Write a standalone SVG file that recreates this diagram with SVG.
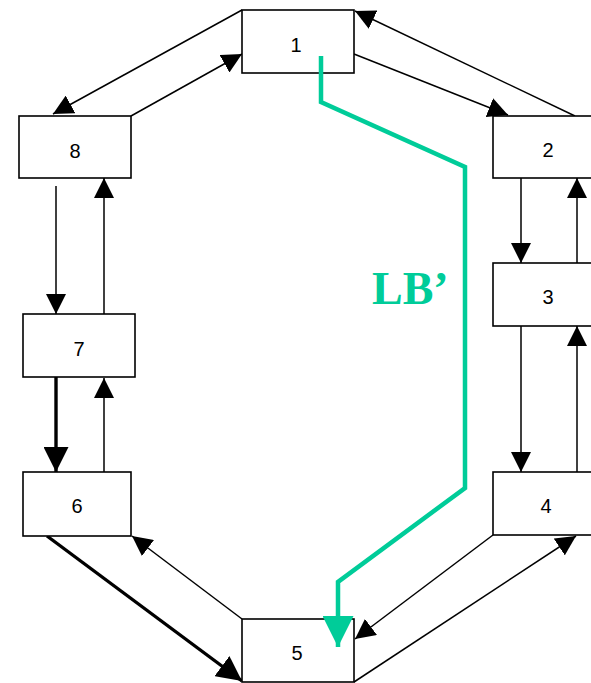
<svg xmlns="http://www.w3.org/2000/svg" width="591" height="683" viewBox="0 0 591 683">
  <style>
    .node rect { fill: #fff; stroke: #000; stroke-width: 1.6; }
    .node text { font-family: "Liberation Sans", Arial, sans-serif; font-size: 20px; text-anchor: middle; fill: #000; }
    .edge { stroke: #000; stroke-width: 1.5; fill: none; marker-end: url(#ah); }
    .edge.thick { stroke-width: 3.4; marker-end: url(#ahBig); }
    .route { stroke: #00cc99; stroke-width: 4.5; fill: none; stroke-linejoin: miter; marker-end: url(#ahGreen); }
    .label { font-family: "Liberation Serif", "Times New Roman", serif; font-weight: bold; font-size: 46px; fill: #00cc99; }
  </style>
  <defs>
    <marker id="ah" markerUnits="userSpaceOnUse" markerWidth="20" markerHeight="20" viewBox="0 0 20 20" refX="20" refY="10" orient="auto">
      <path d="M0,0 L20,10 L0,20 z" fill="#000"/>
    </marker>
    <marker id="ahBig" markerUnits="userSpaceOnUse" markerWidth="25" markerHeight="25" viewBox="0 0 25 25" refX="25" refY="12.5" orient="auto">
      <path d="M0,0 L25,12.5 L0,25 z" fill="#000"/>
    </marker>
    <marker id="ahGreen" markerUnits="userSpaceOnUse" markerWidth="31" markerHeight="31" viewBox="0 0 31 31" refX="31" refY="15.5" orient="auto">
      <path d="M0,0 L31,15.5 L0,31 z" fill="#00cc99"/>
    </marker>
  </defs>

  <rect width="591" height="683" fill="#fff"/>

  <!-- connectors -->
  <g id="connectors">
    <!-- 1 <-> 2 -->
    <line class="edge" x1="354" y1="54" x2="508" y2="115"/>
    <line class="edge" x1="575" y1="116" x2="355" y2="11"/>
    <!-- 1 <-> 8 -->
    <line class="edge" x1="242" y1="10" x2="53" y2="114"/>
    <line class="edge" x1="131" y1="116" x2="242" y2="54"/>
    <!-- 2 <-> 3 -->
    <line class="edge" x1="521" y1="178" x2="521" y2="263"/>
    <line class="edge" x1="577" y1="263" x2="577" y2="178"/>
    <!-- 3 <-> 4 -->
    <line class="edge" x1="521" y1="326" x2="521" y2="472"/>
    <line class="edge" x1="577" y1="472" x2="577" y2="326"/>
    <!-- 8 <-> 7 -->
    <line class="edge" x1="56" y1="186" x2="56" y2="314"/>
    <line class="edge" x1="104" y1="314" x2="104" y2="178"/>
    <!-- 7 <-> 6 -->
    <line class="edge thick" x1="56" y1="377" x2="56" y2="472"/>
    <line class="edge" x1="104" y1="475" x2="104" y2="378"/>
    <!-- 6 <-> 5 -->
    <line class="edge" x1="242" y1="619" x2="132" y2="536"/>
    <line class="edge thick" x1="47" y1="536" x2="242" y2="681"/>
    <!-- 4 <-> 5 -->
    <line class="edge" x1="493" y1="535" x2="355" y2="639"/>
    <line class="edge" x1="354" y1="682" x2="576" y2="536"/>
  </g>

  <!-- nodes -->
  <g id="node-1" class="node"><rect x="242" y="10" width="112" height="63"/><text x="296" y="52">1</text></g>
  <g id="node-2" class="node"><rect x="493" y="116" width="112" height="62"/><text x="548" y="157">2</text></g>
  <g id="node-3" class="node"><rect x="493" y="263" width="112" height="63"/><text x="548" y="304">3</text></g>
  <g id="node-4" class="node"><rect x="493" y="472" width="112" height="63"/><text x="546" y="513">4</text></g>
  <g id="node-5" class="node"><rect x="242" y="619" width="112" height="63"/><text x="297" y="660">5</text></g>
  <g id="node-6" class="node"><rect x="23" y="472" width="108" height="64"/><text x="77" y="513">6</text></g>
  <g id="node-7" class="node"><rect x="23" y="314" width="112" height="63"/><text x="79" y="356">7</text></g>
  <g id="node-8" class="node"><rect x="19" y="116" width="112" height="62"/><text x="75" y="158">8</text></g>

  <!-- highlighted route LB' -->
  <g id="route-lb">
    <polyline class="route" points="321,56 321,102 465,167 465,488 338,582 338,647"/>
    <text class="label" x="372" y="304">LB’</text>
  </g>
</svg>
